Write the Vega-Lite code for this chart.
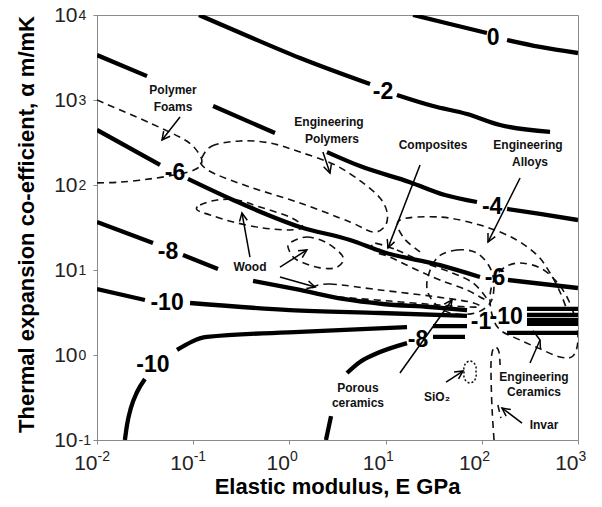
{
  "$schema": "https://vega.github.io/schema/vega-lite/v6.json",
  "width": 481,
  "height": 425,
  "autosize": {"type": "none"},
  "padding": {"left": 97, "top": 15, "right": 24, "bottom": 67},
  "background": "white",
  "config": {
    "font": "Liberation Sans",
    "view": {"stroke": "#8a8a8a", "strokeWidth": 1},
    "axis": {
      "grid": false,
      "domainColor": "#8a8a8a",
      "tickColor": "#8a8a8a",
      "tickSize": 4,
      "labelFont": "Liberation Sans",
      "labelFontSize": 21,
      "labelColor": "#222",
      "labelFlush": false,
      "labelOverlap": false,
      "titleFont": "Liberation Sans",
      "titleFontSize": 22,
      "titleFontWeight": "bold",
      "titleColor": "#000"
    }
  },
  "resolve": {"axis": {"x": "independent", "y": "independent"}},
  "datasets": {
    "contours": [
      {"s":"c0a","E":19.3,"a":10000},{"s":"c0a","E":46.7,"a":7834},{"s":"c0a","E":113,"a":6140},
      {"s":"c0b","E":183,"a":5080},{"s":"c0b","E":403,"a":4210},{"s":"c0b","E":1000,"a":3570},
      {"s":"c2a","E":0.115,"a":10000},{"s":"c2a","E":0.389,"a":5510},{"s":"c2a","E":1.29,"a":3120},{"s":"c2a","E":6.89,"a":1540},
      {"s":"c2b","E":13.1,"a":1145},{"s":"c2b","E":31.1,"a":849},{"s":"c2b","E":70.2,"a":684},{"s":"c2b","E":155,"a":508},{"s":"c2b","E":512,"a":421},
      {"s":"c4a","E":0.01,"a":3380},{"s":"c4a","E":0.0331,"a":1910},
      {"s":"c4b","E":0.161,"a":849},{"s":"c4b","E":0.708,"a":409},
      {"s":"c4c","E":2.46,"a":244},{"s":"c4c","E":5.42,"a":167},{"s":"c4c","E":17.9,"a":108},{"s":"c4c","E":41.4,"a":76.3},{"s":"c4c","E":89.1,"a":63.1},
      {"s":"c4d","E":183,"a":52.2},{"s":"c4d","E":403,"a":45.6},{"s":"c4d","E":1000,"a":38.7},
      {"s":"c6a","E":0.01,"a":444},{"s":"c6a","E":0.0452,"a":172},
      {"s":"c6b","E":0.0883,"a":118},{"s":"c6b","E":0.26,"a":66.6},{"s":"c6b","E":1.29,"a":32.1},{"s":"c6b","E":4.27,"a":22.5},{"s":"c6b","E":9.4,"a":16.3},{"s":"c6b","E":36.7,"a":11.4},{"s":"c6b","E":95.7,"a":8.27},
      {"s":"c6c","E":187,"a":7.63},{"s":"c6c","E":1000,"a":6.14},
      {"s":"c8a","E":0.01,"a":36.7},{"s":"c8a","E":0.0382,"a":20.8},
      {"s":"c8b","E":0.0783,"a":15.0},{"s":"c8b","E":0.181,"a":10.3},
      {"s":"c8c","E":0.419,"a":7.43},{"s":"c8c","E":1.29,"a":5.82},{"s":"c8c","E":3.61,"a":4.56},{"s":"c8c","E":9.4,"a":3.98},{"s":"c8c","E":29,"a":3.67},{"s":"c8c","E":70.2,"a":3.38},
      {"s":"c10a","E":0.01,"a":5.97},{"s":"c10a","E":0.0315,"a":4.44},
      {"s":"c10b","E":0.0927,"a":4.09},{"s":"c10b","E":1.01,"a":3.38},{"s":"c10b","E":8.75,"a":3.12},{"s":"c10b","E":70.2,"a":2.88},
      {"s":"c10c","E":0.0195,"a":0.1},{"s":"c10c","E":0.0205,"a":0.15},{"s":"c10c","E":0.0225,"a":0.238},{"s":"c10c","E":0.0261,"a":0.367},{"s":"c10c","E":0.0315,"a":0.522},
      {"s":"c10d","E":0.0679,"a":1.15},{"s":"c10d","E":0.139,"a":1.63},{"s":"c10d","E":1.29,"a":1.87},{"s":"c10d","E":16.7,"a":2.13},
      {"s":"c10e","E":31.1,"a":2.19},{"s":"c10e","E":70.2,"a":2.19},
      {"s":"c8d","E":2.4,"a":0.1},{"s":"c8d","E":2.71,"a":0.191},
      {"s":"c8e","E":3.97,"a":0.614},{"s":"c8e","E":5.42,"a":0.828},{"s":"c8e","E":7.4,"a":1.0},{"s":"c8e","E":16.7,"a":1.38},
      {"s":"c8f","E":31.1,"a":1.63},{"s":"c8f","E":66.9,"a":1.63},
      {"s":"r1","E":295,"a":3.48},{"s":"r1","E":1000,"a":3.48},
      {"s":"r2","E":295,"a":2.96},{"s":"r2","E":1000,"a":2.96},
      {"s":"r3","E":295,"a":2.58},{"s":"r3","E":1000,"a":2.58},
      {"s":"r4","E":295,"a":2.32},{"s":"r4","E":1000,"a":2.32},
      {"s":"r5","E":183,"a":1.82},{"s":"r5","E":1000,"a":1.82}
    ],
    "zonesClosed": [
      {"z":"poly","o":0,"E":0.123,"a":208},{"z":"poly","o":1,"E":0.157,"a":288},{"z":"poly","o":2,"E":0.306,"a":330},{"z":"poly","o":3,"E":0.628,"a":312},{"z":"poly","o":4,"E":1.29,"a":244},{"z":"poly","o":5,"E":2.98,"a":172},{"z":"poly","o":6,"E":5.69,"a":108},{"z":"poly","o":7,"E":8.75,"a":70.3},{"z":"poly","o":8,"E":10.4,"a":46.9},{"z":"poly","o":9,"E":9.86,"a":32.9},{"z":"poly","o":10,"E":7.4,"a":28.0},{"z":"poly","o":11,"E":4.27,"a":36.7},{"z":"poly","o":12,"E":1.29,"a":61.4},{"z":"poly","o":13,"E":0.389,"a":94.6},{"z":"poly","o":14,"E":0.169,"a":135},{"z":"poly","o":15,"E":0.123,"a":172},
      {"z":"wood1","o":0,"E":0.11,"a":50.8},{"z":"wood1","o":1,"E":0.118,"a":58.2},{"z":"wood1","o":2,"E":0.177,"a":66.6},{"z":"wood1","o":3,"E":0.285,"a":66.6},{"z":"wood1","o":4,"E":0.494,"a":55.1},{"z":"wood1","o":5,"E":1.01,"a":42.0},{"z":"wood1","o":6,"E":1.38,"a":32.1},{"z":"wood1","o":7,"E":1.01,"a":29.6},{"z":"wood1","o":8,"E":0.532,"a":31.2},{"z":"wood1","o":9,"E":0.26,"a":36.7},{"z":"wood1","o":10,"E":0.15,"a":44.4},
      {"z":"wood2","o":0,"E":1.01,"a":20.8},{"z":"wood2","o":1,"E":1.52,"a":24.4},{"z":"wood2","o":2,"E":2.46,"a":20.8},{"z":"wood2","o":3,"E":3.61,"a":14.2},{"z":"wood2","o":4,"E":3.13,"a":10.8},{"z":"wood2","o":5,"E":2.08,"a":10.6},{"z":"wood2","o":6,"E":1.2,"a":13.1},{"z":"wood2","o":7,"E":0.99,"a":17.2},
      {"z":"wood3","o":0,"E":1.72,"a":6.14},{"z":"wood3","o":1,"E":2.64,"a":6.84},{"z":"wood3","o":2,"E":8.75,"a":5.82},{"z":"wood3","o":3,"E":29.0,"a":4.94},{"z":"wood3","o":4,"E":75.4,"a":4.2},{"z":"wood3","o":5,"E":91.2,"a":3.67},{"z":"wood3","o":6,"E":36.7,"a":3.87},{"z":"wood3","o":7,"E":11.1,"a":4.31},{"z":"wood3","o":8,"E":3.36,"a":4.81},{"z":"wood3","o":9,"E":2.08,"a":5.22},
      {"z":"comp","o":0,"E":7.4,"a":20.8},{"z":"comp","o":1,"E":13.1,"a":17.2},{"z":"comp","o":2,"E":24.5,"a":12.4},{"z":"comp","o":3,"E":46.7,"a":9.46},{"z":"comp","o":4,"E":81.1,"a":7.03},{"z":"comp","o":5,"E":113,"a":4.44},{"z":"comp","o":6,"E":70.2,"a":5.82},{"z":"comp","o":7,"E":36.7,"a":7.63},{"z":"comp","o":8,"E":21.2,"a":10},{"z":"comp","o":9,"E":11.1,"a":14.2},{"z":"comp","o":10,"E":7.94,"a":16.3},
      {"z":"porous","o":0,"E":34.2,"a":13.8},{"z":"porous","o":1,"E":55.2,"a":17.2},{"z":"porous","o":2,"E":89.1,"a":15.8},{"z":"porous","o":3,"E":122,"a":10.6},{"z":"porous","o":4,"E":134,"a":6.66},{"z":"porous","o":5,"E":122,"a":4.09},{"z":"porous","o":6,"E":84.9,"a":3.12},{"z":"porous","o":7,"E":46.7,"a":3.12},{"z":"porous","o":8,"E":30.3,"a":4.44},{"z":"porous","o":9,"E":26.9,"a":7.23},
      {"z":"ceram","o":0,"E":174,"a":10.8},{"z":"ceram","o":1,"E":250,"a":12.1},{"z":"ceram","o":2,"E":403,"a":10.6},{"z":"ceram","o":3,"E":577,"a":7.63},{"z":"ceram","o":4,"E":769,"a":4.81},{"z":"ceram","o":5,"E":931,"a":2.72},{"z":"ceram","o":6,"E":1000,"a":1.5},{"z":"ceram","o":7,"E":887,"a":0.973},{"z":"ceram","o":8,"E":650,"a":0.947},{"z":"ceram","o":9,"E":403,"a":1.18},{"z":"ceram","o":10,"E":250,"a":1.5},{"z":"ceram","o":11,"E":155,"a":1.97},{"z":"ceram","o":12,"E":128,"a":2.96},{"z":"ceram","o":13,"E":122,"a":5.08},{"z":"ceram","o":14,"E":137,"a":8.05}
    ],
    "zonesOpen": [
      {"z":"foams","o":0,"E":0.01,"a":1000},{"z":"foams","o":1,"E":0.0356,"a":536},{"z":"foams","o":2,"E":0.0822,"a":338},{"z":"foams","o":3,"E":0.112,"a":244},{"z":"foams","o":4,"E":0.123,"a":187},{"z":"foams","o":5,"E":0.107,"a":154},{"z":"foams","o":6,"E":0.0729,"a":135},{"z":"foams","o":7,"E":0.0356,"a":118},{"z":"foams","o":8,"E":0.0173,"a":108},{"z":"foams","o":9,"E":0.01,"a":106},
      {"z":"alloys","o":0,"E":22.8,"a":16.3},{"z":"alloys","o":1,"E":15.2,"a":24.4},{"z":"alloys","o":2,"E":14.1,"a":38.7},{"z":"alloys","o":3,"E":36.7,"a":42.0},{"z":"alloys","o":4,"E":95.7,"a":33.8},{"z":"alloys","o":5,"E":211,"a":23.8},{"z":"alloys","o":6,"E":375,"a":15.0},{"z":"alloys","o":7,"E":512,"a":9.22},{"z":"alloys","o":8,"E":650,"a":5.51},{"z":"alloys","o":9,"E":769,"a":3.38},
      {"z":"invar","o":0,"E":134,"a":0.1},{"z":"invar","o":1,"E":128,"a":0.225},{"z":"invar","o":2,"E":125,"a":0.508},{"z":"invar","o":3,"E":125,"a":0.873},{"z":"invar","o":4,"E":131,"a":1.18},{"z":"invar","o":5,"E":141,"a":1.24},{"z":"invar","o":6,"E":151,"a":1.08},{"z":"invar","o":7,"E":155,"a":0.762},
      {"z":"invar2","o":0,"E":147,"a":0.258},{"z":"invar2","o":1,"E":158,"a":0.181}
    ],
    "sio2": [
      {"o":0,"E":75.4,"a":0.85},{"o":1,"E":83.0,"a":0.805},{"o":2,"E":87.1,"a":0.722},{"o":3,"E":87.1,"a":0.631},{"o":4,"E":87.1,"a":0.551},{"o":5,"E":83.0,"a":0.494},{"o":6,"E":75.4,"a":0.469},{"o":7,"E":68.5,"a":0.494},{"o":8,"E":65.3,"a":0.551},{"o":9,"E":65.3,"a":0.631},{"o":10,"E":65.3,"a":0.722},{"o":11,"E":68.5,"a":0.805}
    ],
    "arrows": [
      {"id":"a1s","o":0,"E":0.0729,"a":631},{"id":"a1s","o":1,"E":0.0474,"a":338},
      {"id":"a1h","o":0,"E":0.0493,"a":430},{"id":"a1h","o":1,"E":0.0474,"a":338},{"id":"a1h","o":2,"E":0.0575,"a":375},
      {"id":"a2s","o":0,"E":2.23,"a":244},{"id":"a2s","o":1,"E":2.64,"a":138},
      {"id":"a2h","o":0,"E":2.27,"a":164},{"id":"a2h","o":1,"E":2.64,"a":138},{"id":"a2h","o":2,"E":2.73,"a":176},
      {"id":"a3s","o":0,"E":22.8,"a":172},{"id":"a3s","o":1,"E":10.6,"a":18.2},
      {"id":"a3h","o":0,"E":10.4,"a":23.1},{"id":"a3h","o":1,"E":10.6,"a":18.2},{"id":"a3h","o":2,"E":12.4,"a":21.4},
      {"id":"a4s","o":0,"E":250,"a":121},{"id":"a4s","o":1,"E":116,"a":21.3},
      {"id":"a4h","o":0,"E":116,"a":27.2},{"id":"a4h","o":1,"E":116,"a":21.3},{"id":"a4h","o":2,"E":138,"a":24.7},
      {"id":"a5s","o":0,"E":0.389,"a":14.2},{"id":"a5s","o":1,"E":0.321,"a":46.9},
      {"id":"a5h","o":0,"E":0.365,"a":38.5},{"id":"a5h","o":1,"E":0.321,"a":46.9},{"id":"a5h","o":2,"E":0.303,"a":37.1},
      {"id":"a6s","o":0,"E":0.798,"a":10.8},{"id":"a6s","o":1,"E":1.52,"a":17.2},
      {"id":"a6h","o":0,"E":1.36,"a":14.0},{"id":"a6h","o":1,"E":1.52,"a":17.2},{"id":"a6h","o":2,"E":1.23,"a":16.8},
      {"id":"a7s","o":0,"E":0.798,"a":8.27},{"id":"a7s","o":1,"E":1.85,"a":6.31},
      {"id":"a7h","o":0,"E":1.5,"a":6.04},{"id":"a7h","o":1,"E":1.85,"a":6.31},{"id":"a7h","o":2,"E":1.58,"a":7.43},
      {"id":"a8s","o":0,"E":14.1,"a":0.614},{"id":"a8s","o":1,"E":49.0,"a":4.44},
      {"id":"a8h","o":0,"E":47.5,"a":3.5},{"id":"a8h","o":1,"E":49.0,"a":4.44},{"id":"a8h","o":2,"E":40.6,"a":3.96},
      {"id":"a9s","o":0,"E":42.5,"a":0.481},{"id":"a9s","o":1,"E":63.8,"a":0.648},
      {"id":"a9h","o":0,"E":57.3,"a":0.525},{"id":"a9h","o":1,"E":63.8,"a":0.648},{"id":"a9h","o":2,"E":51.5,"a":0.631},
      {"id":"a10s","o":0,"E":317,"a":0.805},{"id":"a10s","o":1,"E":403,"a":1.5},
      {"id":"a10h","o":0,"E":407,"a":1.18},{"id":"a10h","o":1,"E":403,"a":1.5},{"id":"a10h","o":2,"E":341,"a":1.93},
      {"id":"a11s","o":0,"E":262,"a":0.158},{"id":"a11s","o":1,"E":162,"a":0.238},
      {"id":"a11h","o":0,"E":200,"a":0.228},{"id":"a11h","o":1,"E":162,"a":0.238},{"id":"a11h","o":2,"E":179,"a":0.191}
    ],
    "contourLabels": [
      {"t":"0","E":131,"a":5360},{"t":"-2","E":9.4,"a":1240},{"t":"-4","E":128,"a":55.1},
      {"t":"-6","E":0.0647,"a":138},{"t":"-6","E":137,"a":8.05},
      {"t":"-8","E":0.0547,"a":16.3},{"t":"-8","E":21.7,"a":1.5},
      {"t":"-10","E":0.0535,"a":4.09},{"t":"-10","E":0.0382,"a":0.762},{"t":"-10","E":179,"a":2.8},
      {"t":"-1","E":98.2,"a":2.44}
    ],
    "materialLabels": [
      {"t":"Polymer","E":0.0617,"a":1312},{"t":"Foams","E":0.0617,"a":828},
      {"t":"Engineering","E":2.58,"a":551},{"t":"Polymers","E":2.77,"a":348},
      {"t":"Composites","E":31.1,"a":296},
      {"t":"Engineering","E":302,"a":296},{"t":"Alloys","E":317,"a":187},
      {"t":"Wood","E":0.389,"a":10.8},
      {"t":"Porous","E":5.16,"a":0.409},{"t":"ceramics","E":5.16,"a":0.272},
      {"t":"SiO₂","E":34.2,"a":0.321},
      {"t":"Engineering","E":349,"a":0.551},{"t":"Ceramics","E":349,"a":0.367},
      {"t":"Invar","E":443,"a":0.15}
    ]
  },
  "encoding": {
    "x": {"field": "E", "type": "quantitative", "scale": {"type": "log", "domain": [0.01, 1000], "nice": false}, "axis": null},
    "y": {"field": "a", "type": "quantitative", "scale": {"type": "log", "domain": [0.1, 10000], "nice": false}, "axis": null}
  },
  "layer": [
    {
      "data": {"name": "zonesClosed"},
      "mark": {"type": "line", "interpolate": "cardinal-closed", "color": "#111", "strokeWidth": 1.6, "strokeDash": [7, 5], "clip": true},
      "encoding": {
        "x": {
          "field": "E", "type": "quantitative",
          "scale": {"type": "log", "domain": [0.01, 1000], "nice": false},
          "axis": {
            "orient": "bottom",
            "title": "Elastic modulus, E GPa",
            "values": [0.01, 0.1, 1, 10, 100, 1000],
            "labelExpr": "'10'",
            "labelAlign": "right",
            "labelBaseline": "middle",
            "labelDx": 5,
            "labelPadding": 19,
            "titleX": 240,
            "titleY": 46,
            "titleAlign": "center",
            "titleBaseline": "middle"
          }
        },
        "y": {
          "field": "a", "type": "quantitative",
          "scale": {"type": "log", "domain": [0.1, 10000], "nice": false},
          "axis": {
            "orient": "left",
            "title": "Thermal expansion co-efficient, α m/mK",
            "values": [0.1, 1, 10, 100, 1000, 10000],
            "labelExpr": "'10'",
            "labelAlign": "right",
            "labelBaseline": "middle",
            "labelDy": 2,
            "labelPadding": 16,
            "titleX": -71,
            "titleY": 209,
            "titleAngle": -90,
            "titleAlign": "center",
            "titleBaseline": "middle"
          }
        },
        "detail": {"field": "z"},
        "order": {"field": "o", "type": "quantitative"}
      }
    },
    {
      "data": {"name": "zonesOpen"},
      "mark": {"type": "line", "interpolate": "cardinal", "color": "#111", "strokeWidth": 1.6, "strokeDash": [7, 5], "clip": true},
      "encoding": {"detail": {"field": "z"}, "order": {"field": "o", "type": "quantitative"}}
    },
    {
      "data": {"name": "sio2"},
      "mark": {"type": "line", "interpolate": "cardinal-closed", "color": "#111", "strokeWidth": 1.5, "strokeDash": [2, 2], "clip": true},
      "encoding": {"order": {"field": "o", "type": "quantitative"}}
    },
    {
      "data": {"name": "contours"},
      "mark": {"type": "line", "interpolate": "monotone", "color": "#000", "strokeWidth": 4.3, "clip": true},
      "encoding": {"detail": {"field": "s"}}
    },
    {
      "data": {"name": "arrows"},
      "mark": {"type": "line", "color": "#000", "strokeWidth": 1.5, "clip": true},
      "encoding": {"detail": {"field": "id"}, "order": {"field": "o", "type": "quantitative"}}
    },
    {
      "data": {"name": "contourLabels"},
      "mark": {"type": "text", "font": "Liberation Sans", "fontSize": 23, "fontWeight": "bold", "color": "#000", "align": "center", "baseline": "middle"},
      "encoding": {"text": {"field": "t"}}
    },
    {
      "data": {"name": "materialLabels"},
      "mark": {"type": "text", "font": "Liberation Sans", "fontSize": 12, "fontWeight": "bold", "color": "#111", "align": "center", "baseline": "middle"},
      "encoding": {
        "x": {
          "field": "E", "type": "quantitative",
          "scale": {"type": "log", "domain": [0.01, 1000], "nice": false},
          "axis": {
            "orient": "bottom",
            "title": null,
            "domain": false,
            "ticks": false,
            "tickSize": 0,
            "values": [0.01, 0.1, 1, 10, 100, 1000],
            "labelExpr": "datum.value < 0.05 ? '-2' : datum.value < 0.5 ? '-1' : datum.value < 5 ? '0' : datum.value < 50 ? '1' : datum.value < 500 ? '2' : '3'",
            "labelFontSize": 14,
            "labelAlign": "left",
            "labelBaseline": "middle",
            "labelDx": 5,
            "labelPadding": 16
          }
        },
        "y": {
          "field": "a", "type": "quantitative",
          "scale": {"type": "log", "domain": [0.1, 10000], "nice": false},
          "axis": {
            "orient": "left",
            "title": null,
            "domain": false,
            "ticks": false,
            "tickSize": 0,
            "values": [0.1, 1, 10, 100, 1000, 10000],
            "labelExpr": "datum.value < 0.5 ? '-1' : datum.value < 5 ? '0' : datum.value < 50 ? '1' : datum.value < 500 ? '2' : datum.value < 5000 ? '3' : '4'",
            "labelFontSize": 14,
            "labelAlign": "left",
            "labelBaseline": "middle",
            "labelDy": -5,
            "labelPadding": 19
          }
        },
        "text": {"field": "t"}
      }
    }
  ]
}
